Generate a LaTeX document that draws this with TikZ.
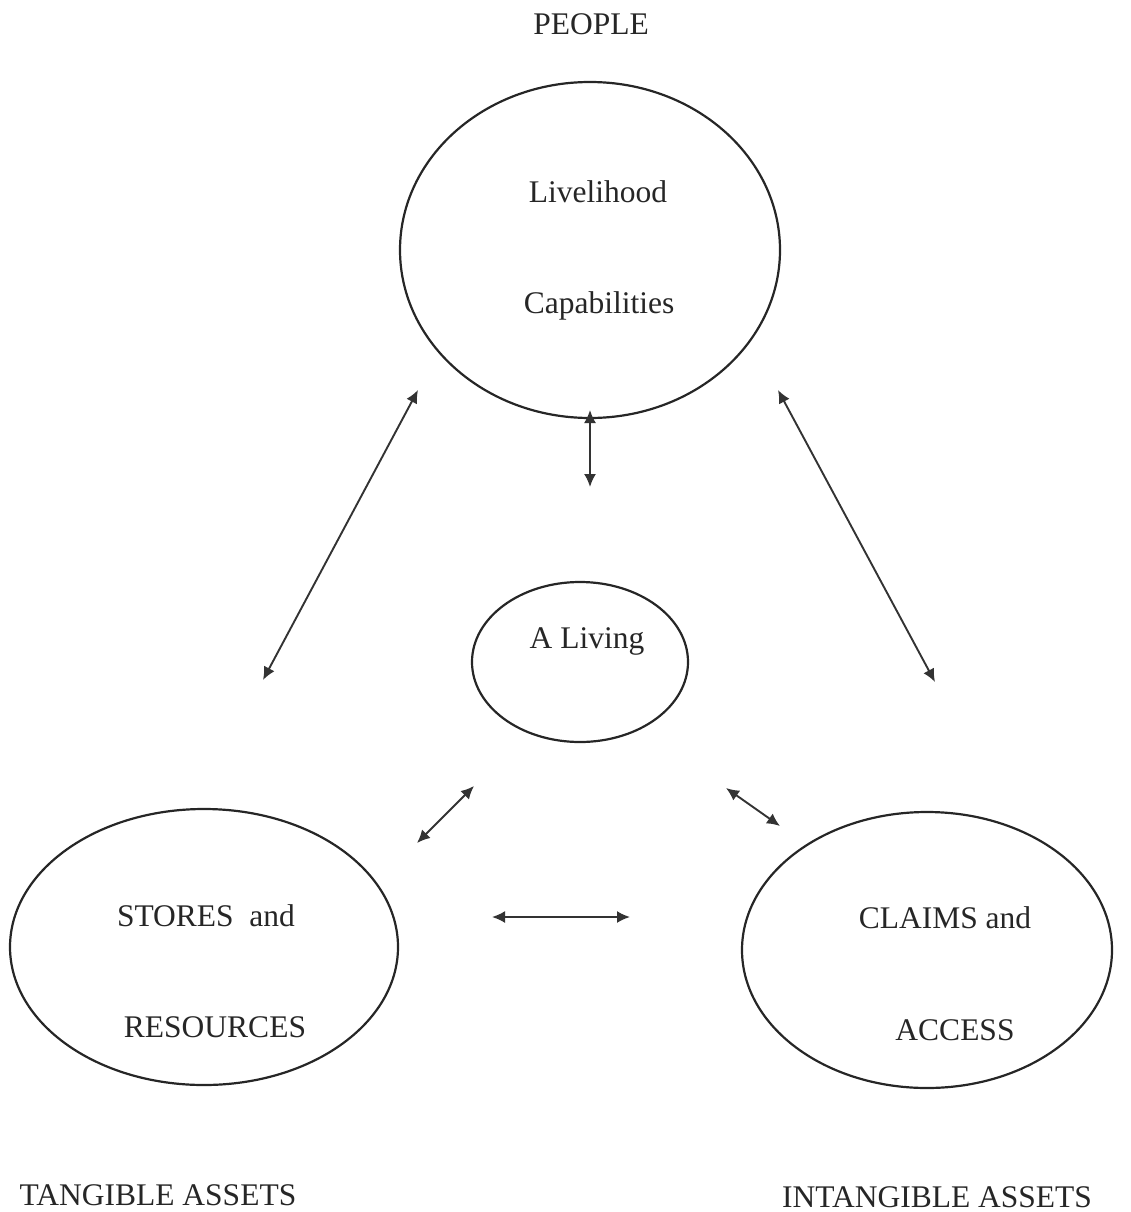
\documentclass[tikz,border=0pt]{standalone}
\usepackage{fontspec}
\setmainfont{Liberation Serif}
\usetikzlibrary{arrows.meta}
\begin{document}
\begin{tikzpicture}[x=1pt,y=-1pt,
  oval/.style={draw=black!85,line width=2.2pt},
  lbl/.style={font=\fontsize{31.5}{36}\selectfont,text=black!85,inner sep=0pt,anchor=base},
  link/.style={draw=black!80,line width=1.9pt,{Latex[length=13pt,width=12pt]}-{Latex[length=13pt,width=12pt]}}]
\useasboundingbox (0,0) rectangle (1131,1212);
% ellipses
\draw[oval] (590,250) ellipse [x radius=190,y radius=168];
\draw[oval] (580,662) ellipse [x radius=108,y radius=80];
\draw[oval] (204,947) ellipse [x radius=194,y radius=138];
\draw[oval] (927,950) ellipse [x radius=185,y radius=138];
% texts
\node[lbl] (people) at (591,35) {PEOPLE};
\node[lbl] (l1) at (598,202) {Livelihood};
\node[lbl] (l2) at (599,313) {Capabilities};
\node[lbl] (living) at (587,648) {A Living};
\node[lbl] (s1) at (206,926) {STORES\ \ and};
\node[lbl] (s2) at (215,1037) {RESOURCES};
\node[lbl] (c1) at (945,928) {CLAIMS and};
\node[lbl] (c2) at (955,1040) {ACCESS};
\node[lbl] (tang) at (158,1205) {TANGIBLE ASSETS};
\node[lbl] (intang) at (937,1207) {INTANGIBLE ASSETS};
% arrow endpoints
\coordinate (a1) at (418,390); \coordinate (b1) at (263,680);
\coordinate (a2) at (590,410); \coordinate (b2) at (590,487);
\coordinate (a3) at (778,390); \coordinate (b3) at (935,682);
\coordinate (a4) at (474,786); \coordinate (b4) at (417,843);
\coordinate (a5) at (726,788); \coordinate (b5) at (780,826);
\coordinate (a6) at (492,917); \coordinate (b6) at (630,917);
\draw[link] (a1) -- (b1);
\draw[link] (a2) -- (b2);
\draw[link] (a3) -- (b3);
\draw[link] (a4) -- (b4);
\draw[link] (a5) -- (b5);
\draw[link] (a6) -- (b6);
\end{tikzpicture}
\end{document}
